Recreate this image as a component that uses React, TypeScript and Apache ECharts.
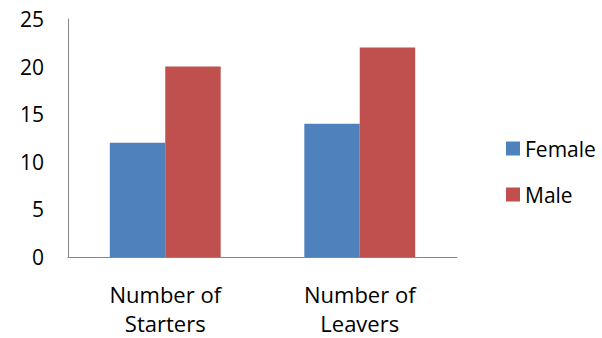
import React, { useEffect, useRef } from "react";
import * as echarts from "echarts";

const categories = ["Number of\nStarters", "Number of\nLeavers"];
const female = [12, 14];
const male = [20, 22];
const yTicks = { min: 0, max: 25, interval: 5 };

export default function App() {
  const ref = useRef<HTMLDivElement>(null);
  useEffect(() => {
    const chart = echarts.init(ref.current!, null, { renderer: "svg" });
    const font = "Open Sans";
    chart.setOption({
      animation: false,
      grid: { left: 68, right: 145, top: 19, bottom: 81, containLabel: false, outerBoundsMode: "none" },
      legend: {
        orient: "vertical",
        left: 501,
        top: 133,
        itemWidth: 14,
        itemHeight: 14,
        itemGap: 25,
        icon: "rect",
        textStyle: { fontFamily: font, fontSize: 21, color: "#000" },
        data: ["Female", "Male"],
      },
      xAxis: {
        type: "category",
        data: categories,
        axisLine: { lineStyle: { color: "#868686" } },
        axisTick: { show: false },
        axisLabel: {
          fontFamily: font,
          fontSize: 22,
          color: "#000",
          lineHeight: 29,
          margin: 22,
        },
      },
      yAxis: {
        type: "value",
        min: yTicks.min,
        max: yTicks.max,
        interval: yTicks.interval,
        axisLine: { show: true, lineStyle: { color: "#868686" } },
        axisTick: { show: false },
        splitLine: { show: false },
        axisLabel: { fontFamily: font, fontSize: 21, color: "#000", margin: 24 },
      },
      series: [
        {
          name: "Female",
          type: "bar",
          data: female,
          barGap: "0%",
          barCategoryGap: "43%",
          itemStyle: { color: "#4F81BD" },
        },
        {
          name: "Male",
          type: "bar",
          data: male,
          barGap: "0%",
          barCategoryGap: "43%",
          itemStyle: { color: "#C0504D" },
        },
      ],
    });
    return () => chart.dispose();
  }, []);
  return <div ref={ref} style={{ width: 602, height: 338, position: "absolute", left: 0, top: 0 }} />;
}
